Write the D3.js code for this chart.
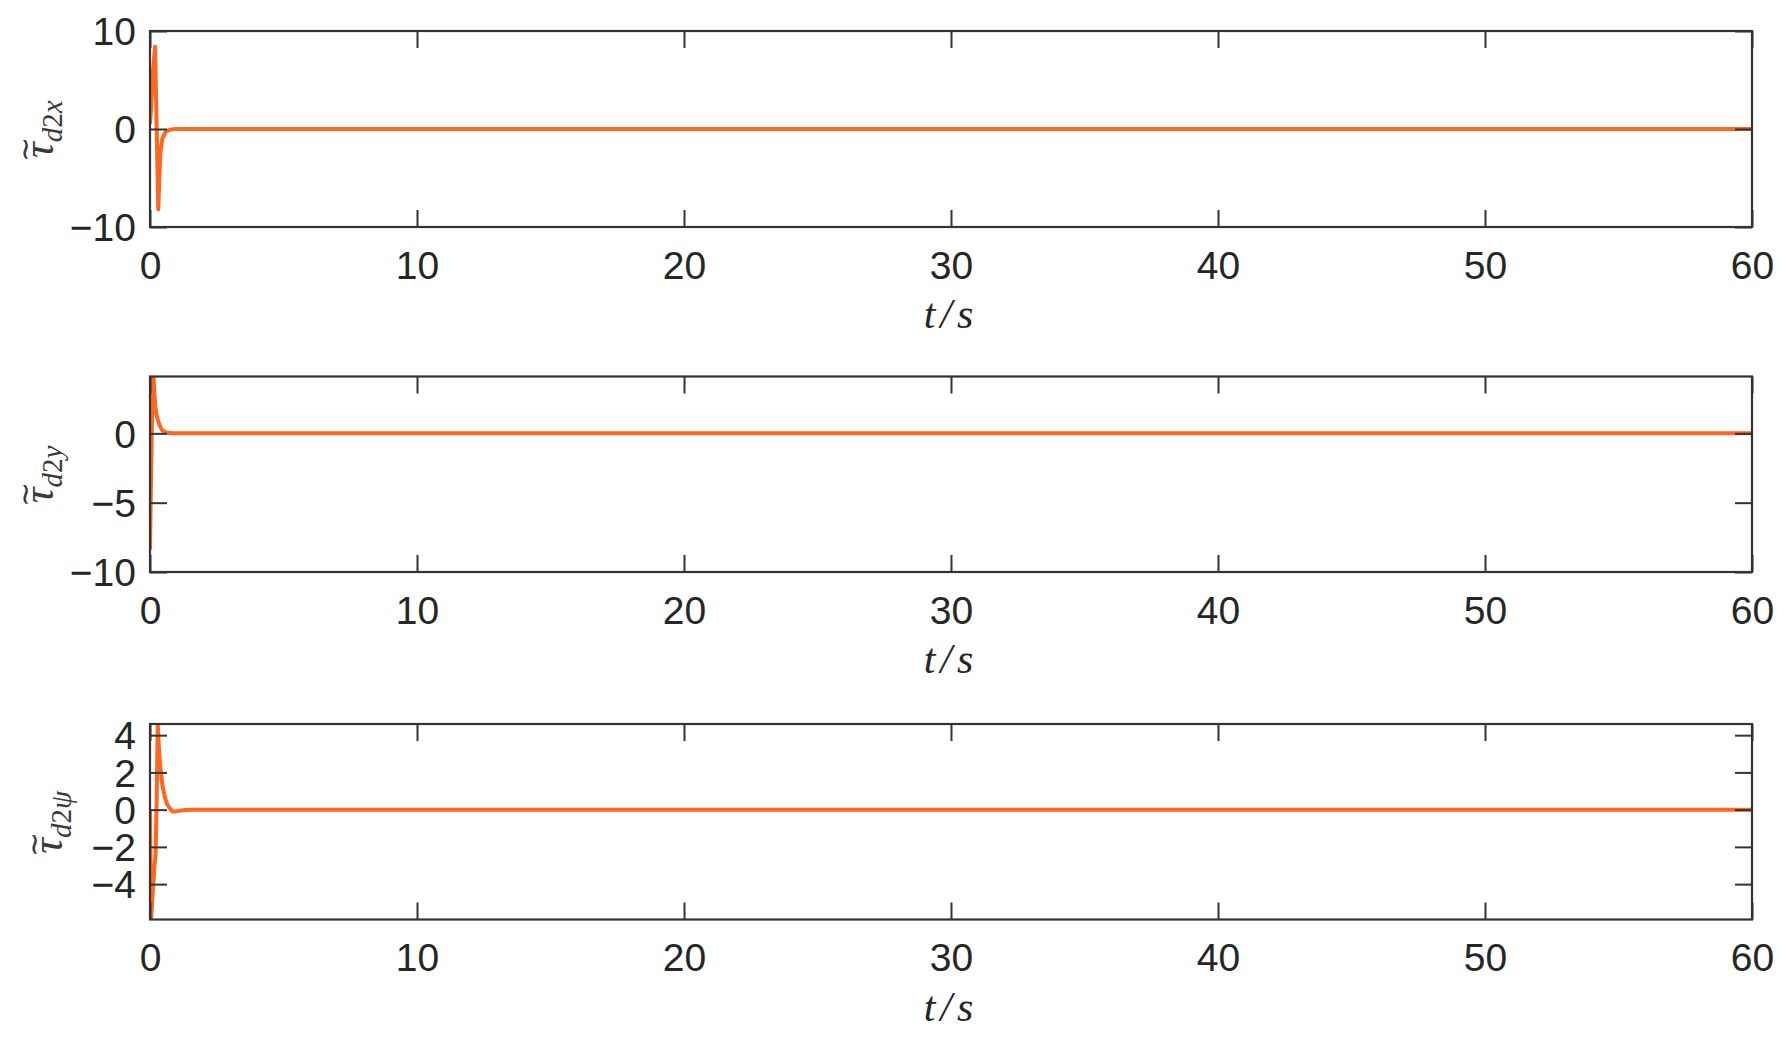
<!DOCTYPE html>
<html>
<head>
<meta charset="utf-8">
<script src="https://cdn.jsdelivr.net/npm/d3@7"></script>
<style>
  html, body { margin: 0; padding: 0; background: #fff; }
  svg { display: block; }
</style>
</head>
<body>
<svg id="chart" width="1787" height="1050"></svg>
<script>
// ---- data ----
const xTicks = [0, 10, 20, 30, 40, 50, 60];

const t1 = [0, 0.05, 0.1, 0.19, 0.25, 0.31, 0.35, 0.39, 0.46, 0.58, 0.7, 0.8, 1.0, 1.5, 60];
const v1 = [0.5, 2.5, 5.5, 8.4, 0.2, -8.2, -5.0, -2.4, -1.0, -0.3, -0.12, -0.05, -0.01, 0, 0];

const t2 = [0, 0.04, 0.08, 0.12, 0.16, 0.2, 0.26, 0.33, 0.4, 0.47, 0.58, 0.7, 0.85, 1.2, 60];
const v2 = [-8.4, -3.0, 1.5, 4.6, 3.0, 1.9, 1.2, 0.74, 0.42, 0.2, 0.08, 0.02, 0, 0, 0];

const t3 = [0, 0.04, 0.1, 0.17, 0.21, 0.25, 0.29, 0.33, 0.38, 0.46, 0.55, 0.64, 0.75, 0.85, 1.0, 1.3, 1.6, 60];
const v3 = [0, -5.9, -4.5, -3.0, -2.4, 0.5, 4.6, 3.4, 2.4, 1.35, 0.7, 0.3, 0.05, -0.1, -0.08, -0.02, 0, 0];

const yTicks1 = [-10, 0, 10];
const yTicks2 = [-10, -5, 0];
const yTicks3 = [-4, -2, 0, 2, 4];

const yDomain1 = [-10, 10];
const yDomain2 = [-10, 4.1];
const yDomain3 = [-5.9, 4.6];

const subs = ["d2x", "d2y", "d2ψ"];

// ---- layout ----
const svg = d3.select("#chart");
const left = 150, right = 1752;
const panels = [
  { top: 31,  bottom: 227,  t: t1, v: v1, ticks: yTicks1, dom: yDomain1, labX: 53, sub: subs[0] },
  { top: 376.5, bottom: 572, t: t2, v: v2, ticks: yTicks2, dom: yDomain2, labX: 53, sub: subs[1] },
  { top: 724, bottom: 919.5, t: t3, v: v3, ticks: yTicks3, dom: yDomain3, labX: 62, sub: subs[2] }
];

const axisColor = "#333333";
const textColor = "#262626";
const lineColor = "#ff661e";
const tickLen = 17;
const sansFont = "'Liberation Sans', Arial, Helvetica, sans-serif";
const serifFont = "'Liberation Serif', 'DejaVu Serif', 'Times New Roman', serif";

const x = d3.scaleLinear().domain([0, 60]).range([left, right]);

panels.forEach((p, i) => {
  const y = d3.scaleLinear().domain(p.dom).range([p.bottom, p.top]);
  const g = svg.append("g");

  const clipId = "clip" + i;
  svg.append("clipPath").attr("id", clipId)
    .append("rect").attr("x", left).attr("y", p.top)
    .attr("width", right - left).attr("height", p.bottom - p.top);

  // data line
  const data = p.t.map((tt, k) => [tt, p.v[k]]);
  g.append("path")
    .datum(data)
    .attr("clip-path", `url(#${clipId})`)
    .attr("fill", "none")
    .attr("stroke", lineColor)
    .attr("stroke-width", 4)
    .attr("stroke-linejoin", "round")
    .attr("d", d3.line().x(d => x(d[0])).y(d => y(d[1])));

  // axes: bottom with labels, top/left/right ticks only
  const bottom = g.append("g").attr("transform", `translate(0,${p.bottom})`)
    .call(d3.axisBottom(x).tickValues(xTicks).tickSize(-tickLen).tickPadding(24)
      .tickFormat(d3.format("d")));
  const topAx = g.append("g").attr("transform", `translate(0,${p.top})`)
    .call(d3.axisTop(x).tickValues(xTicks).tickSize(-tickLen).tickFormat(""));
  const leftAx = g.append("g").attr("transform", `translate(${left},0)`)
    .call(d3.axisLeft(y).tickValues(p.ticks).tickSize(-tickLen).tickPadding(14)
      .tickFormat(d => d < 0 ? "\u2212" + Math.abs(d) : String(d)));
  const rightAx = g.append("g").attr("transform", `translate(${right},0)`)
    .call(d3.axisRight(y).tickValues(p.ticks).tickSize(-tickLen).tickFormat(""));

  [bottom, topAx, leftAx, rightAx].forEach(a => {
    a.select(".domain").remove();
    a.selectAll(".tick line").attr("stroke", axisColor).attr("stroke-width", 2);
    a.selectAll("text").attr("fill", textColor)
      .style("font-family", sansFont).style("font-size", "39px");
  });
  leftAx.selectAll("text").attr("dy", "0.35em");
  bottom.selectAll("text").attr("dy", "0.71em");

  // box
  g.append("rect")
    .attr("x", left).attr("y", p.top)
    .attr("width", right - left).attr("height", p.bottom - p.top)
    .attr("fill", "none").attr("stroke", axisColor).attr("stroke-width", 2.2);

  // x label t/s
  g.append("text")
    .attr("x", (left + right) / 2).attr("y", p.bottom + 101)
    .attr("text-anchor", "middle")
    .style("font-family", serifFont).style("font-style", "italic")
    .style("font-size", "42px").style("letter-spacing", "5px").attr("fill", textColor)
    .text("t/s");

  // y label: tilde tau with subscript
  const yc = (p.top + p.bottom) / 2;
  const lg = g.append("g").attr("transform", `translate(${p.labX},${yc}) rotate(-90)`);
  const txt = lg.append("text")
    .style("font-family", serifFont).attr("fill", "#3a3a3a");
  txt.append("tspan").style("font-size", "44px").style("font-style", "italic").text("τ");
  const subT = txt.append("tspan").attr("dy", 9).style("font-size", "29px");
  Array.from(p.sub).forEach(c => {
    subT.append("tspan")
      .style("font-style", (c === "2") ? "normal" : "italic")
      .text(c);
  });
  const bb = txt.node().getBBox();
  const tauW = txt.node().getSubStringLength(0, 1);
  txt.attr("x", -bb.width / 2);
  lg.append("text")
    .attr("x", -bb.width / 2 + tauW / 2 + 1)
    .attr("y", -18)
    .attr("text-anchor", "middle")
    .style("font-family", sansFont)
    .style("font-size", "30px").attr("fill", "#3a3a3a")
    .text("\u223C");
});
</script>
</body>
</html>
